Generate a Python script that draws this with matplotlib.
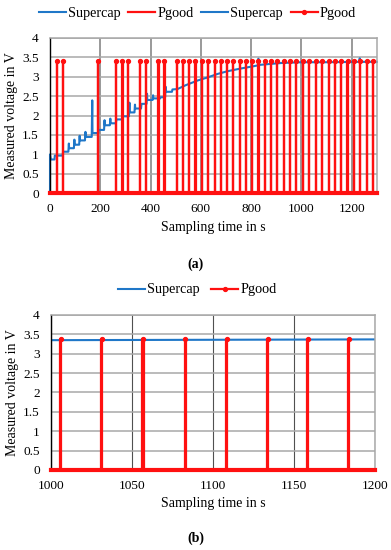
import matplotlib
matplotlib.use("Agg")
import matplotlib.pyplot as plt
from matplotlib.lines import Line2D
import numpy as np

plt.rcParams['font.family'] = ['Liberation Serif', 'DejaVu Serif']

# ---------------- data ----------------
# Supercap voltage, panel (a): vertices
sc_time_a = [0, 0, 3, 18, 19, 50, 52, 73, 75, 76, 95, 97, 98, 116, 118, 119, 139, 141, 142,
             166, 168, 169, 192, 193, 215, 217, 218, 238, 240, 241, 262, 264, 288, 290, 314,
             316, 317, 336, 338, 339, 362, 364, 384, 386, 387, 408, 410, 411, 438, 440, 458,
             460, 462, 485, 487, 507, 540, 587, 627, 667, 707, 760, 812, 827, 829, 831, 865,
             920, 1000, 1100, 1230, 1232, 1234, 1300]
sc_volt_a = [0, 1.0, 0.87, 0.87, 0.97, 0.97, 1.07, 1.07, 1.28, 1.16, 1.16, 1.38, 1.25, 1.25,
             1.48, 1.36, 1.36, 1.58, 1.45, 1.45, 2.39, 1.55, 1.55, 1.63, 1.63, 1.88, 1.75, 1.75,
             1.92, 1.80, 1.80, 1.90, 1.90, 1.98, 1.98, 2.33, 2.08, 2.08, 2.28, 2.18, 2.18, 2.30,
             2.30, 2.56, 2.40, 2.40, 2.52, 2.44, 2.44, 2.47, 2.47, 2.74, 2.61, 2.61, 2.67, 2.68,
             2.78, 2.90, 2.98, 3.07, 3.14, 3.21, 3.27, 3.29, 3.46, 3.30, 3.32, 3.35, 3.37, 3.37,
             3.38, 3.47, 3.38, 3.38]

# Supercap voltage, panel (b)
sc_time_b = [1000, 1050, 1100, 1150, 1200]
sc_volt_b = [3.35, 3.355, 3.36, 3.365, 3.37]

# Pgood pulses (start times in s), pulse height and duration
pgood_pulses = [27.8, 50.5, 192, 263.7, 287.6, 310.3, 358, 383, 430.8, 454.7, 504, 529, 554,
                578, 604.6, 628.5, 655, 679, 704, 729, 754.6, 779.6, 802.3, 828.6, 855.2, 879,
                904, 929.6, 954.6, 978.5, 1005.6, 1030.9, 1056.4, 1082.5, 1108, 1133.3, 1158,
                1183.3, 1208, 1233, 1260, 1283.6]
pgood_high = 3.39
pgood_width = 0.8

x_ticks_a = [0, 200, 400, 600, 800, 1000, 1200]
x_ticks_b = [1000, 1050, 1100, 1150, 1200]
y_ticks = [0, 0.5, 1, 1.5, 2, 2.5, 3, 3.5, 4]
y_tick_labels = ['0', '0.5', '1', '1.5', '2', '2.5', '3', '3.5', '4']

BLUE = '#1f77c8'
RED = '#ff1010'

def pgood_series(t0, t1):
    xs, ys = [t0], [0]
    for p in pgood_pulses:
        if t0 <= p <= t1:
            xs += [p, p, p + pgood_width, p + pgood_width]
            ys += [0, pgood_high, pgood_high, 0]
    xs.append(t1)
    ys.append(0)
    return xs, ys

fig = plt.figure(figsize=(3.91, 5.5), dpi=100)

def style_axes(ax, xlim, xticks, vgrid_color, vgrid_lw):
    ax.set_xlim(*xlim)
    ax.set_ylim(0, 4)
    ax.set_xticks(xticks)
    ax.set_xticklabels([str(t) for t in xticks])
    ax.set_yticks(y_ticks)
    ax.set_yticklabels(y_tick_labels)
    ax.tick_params(length=0, labelsize=9.6, pad=8, axis='y')
    ax.tick_params(length=0, labelsize=9.6, pad=7, axis='x')
    ax.yaxis.grid(True, color='#a8a8a8', lw=1.1)
    ax.xaxis.grid(True, color=vgrid_color, lw=vgrid_lw)
    ax.set_axisbelow(True)
    for s in ['top', 'right']:
        ax.spines[s].set_color('#a8a8a8')
        ax.spines[s].set_linewidth(1.1)
    ax.spines['left'].set_color('black')
    ax.spines['left'].set_linewidth(1.0)
    ax.spines['bottom'].set_color('#a8a8a8')
    ax.set_xlabel('Sampling time in s', fontsize=10, labelpad=4)
    ax.set_ylabel('Measured voltage in V', fontsize=10, labelpad=3)

# ---------------- panel (a) ----------------
axa = fig.add_axes([0.1279, 0.6485, 0.8358, 0.2829])
style_axes(axa, (0, 1300), x_ticks_a, '#888888', 1.2)
px, py = pgood_series(0, 1300)
axa.plot(px, py, color=RED, lw=1.6, clip_on=False, zorder=3)
axa.plot([0, 1300], [0, 0], color=RED, lw=3.0, clip_on=False, zorder=3)
tops = [p + pgood_width / 2 for p in pgood_pulses if p <= 1300]
axa.plot(tops, [pgood_high] * len(tops), 'o', color=RED, ms=2.8, zorder=4, clip_on=False)
axa.plot(sc_time_a, sc_volt_a, color=BLUE, lw=1.5, zorder=2, clip_on=False)

h_sc = Line2D([], [], color=BLUE, lw=1.5)
h_pg = Line2D([], [], color=RED, lw=1.6)
h_pgm = Line2D([], [], color=RED, lw=1.6, marker='o', ms=2.8)
fig.legend([h_sc, h_pg, h_sc, h_pgm], ['Supercap', 'Pgood', 'Supercap', 'Pgood'],
           loc='center', bbox_to_anchor=(0.505, 1 - 13 / 550), ncol=4, frameon=False,
           fontsize=10.2, handlelength=1.9, handletextpad=0.15, columnspacing=0.55)
fig.text(0.5, 1 - 264 / 550, '(a)', ha='center', va='center', fontsize=10, fontweight='bold')

# ---------------- panel (b) ----------------
axb = fig.add_axes([0.1304, 0.1455, 0.8286, 0.2818])
style_axes(axb, (1000, 1200), x_ticks_b, '#505050', 0.8)
px, py = pgood_series(1000, 1200)
axb.plot(px, py, color=RED, lw=1.6, clip_on=False, zorder=3)
axb.plot([1000, 1200], [0, 0], color=RED, lw=3.0, clip_on=False, zorder=3)
tops = [p + pgood_width / 2 for p in pgood_pulses if 1000 <= p <= 1200]
axb.plot(tops, [pgood_high] * len(tops), 'o', color=RED, ms=2.8, zorder=4)
axb.plot(sc_time_b, sc_volt_b, color=BLUE, lw=1.5, zorder=2)

fig.legend([h_sc, h_pgm], ['Supercap', 'Pgood'],
           loc='center', bbox_to_anchor=(0.505, 1 - 290 / 550), ncol=2, frameon=False,
           fontsize=10.2, handlelength=1.9, handletextpad=0.15, columnspacing=0.8)
fig.text(0.5, 1 - 538 / 550, '(b)', ha='center', va='center', fontsize=10, fontweight='bold')

fig.savefig('out.png', dpi=100)
